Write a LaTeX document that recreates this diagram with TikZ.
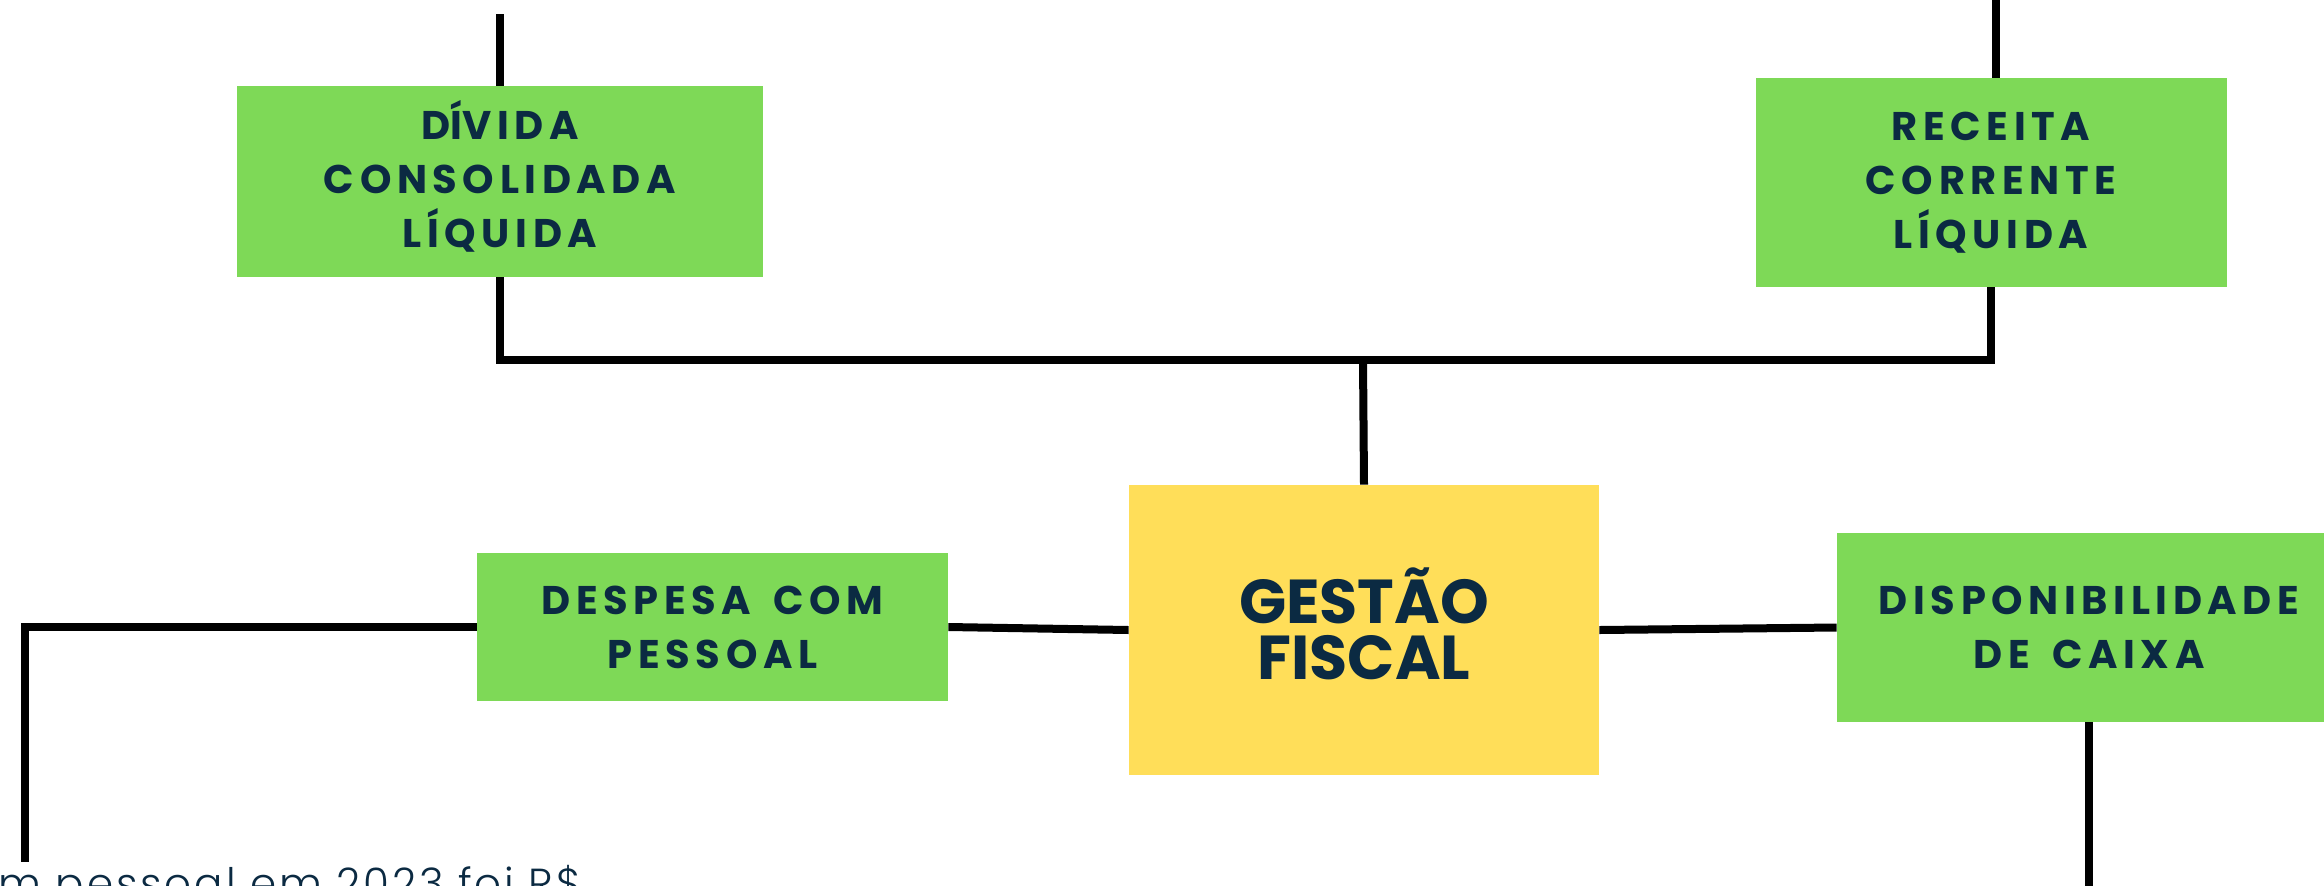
\documentclass[tikz,border=0pt]{standalone}
\usepackage{fontspec}
\usepackage{xcolor}
\setmainfont{Poppins}
\newfontfamily\boxfont{Poppins}[LetterSpace=14,WordSpace=1.6]
\newfontfamily\notefont{Poppins Light}[LetterSpace=7]

\definecolor{boxgreen}{HTML}{7ED957}
\definecolor{boxyellow}{HTML}{FFDE59}
\definecolor{inkblue}{HTML}{0B2A42}

\begin{document}
\begin{tikzpicture}[x=0.5pt,y=0.5pt,yscale=-1,xscale=1,
  greenbox/.style={fill=boxgreen, inner sep=0pt, align=center, text=inkblue,
    font=\boxfont\bfseries\fontsize{20}{27}\selectfont},
  yellowbox/.style={fill=boxyellow, inner sep=0pt, align=center, text=inkblue,
    font=\bfseries\fontsize{31}{28}\selectfont},
  link/.style={line width=4pt, black}]
%set diagram to the 2324 x 885 frame
\clip (0,0) rectangle (2324,885);

%Shape: Rectangle (top left)
\node (dcl) [greenbox, minimum width=263pt, minimum height=95.5pt] at (500,181.5) {D\smash{Í}VIDA\\CONSOLIDADA\\LÍQUIDA};
%Shape: Rectangle (top right)
\node (rcl) [greenbox, minimum width=235.5pt, minimum height=104.5pt] at (1991,182.5) {RECEITA\\CORRENTE\\LÍQUIDA};
%Shape: Rectangle (centre)
\node (gf) [yellowbox, minimum width=235pt, minimum height=145pt] at (1364,630) {GEST\smash{Ã}O\\FISCAL};
%Shape: Rectangle (left)
\node (dcp) [greenbox, minimum width=235.5pt, minimum height=74pt] at (712.5,627) {DESPESA COM\\PESSOAL};
%Shape: Rectangle (right)
\node (dcx) [greenbox, minimum width=252pt, minimum height=94.5pt] at (2089,627.5) {DISPONIBILIDADE\\DE CAIXA};

%Free ends
\coordinate (dcltop) at (500,14);
\coordinate (rcltop) at (1996,0);
\coordinate (bus) at (1363,360);
\coordinate (leftend) at (25,862);
\coordinate (dcxend) at (2089,890);

%Straight Lines
\draw [link] (dcltop) -- (dcl.north);
\draw [link] (rcltop) -- (rcltop |- rcl.north);
\draw [link] (dcl.south) -- (dcl.south |- bus) -- (rcl.south |- bus) -- (rcl.south);
\draw [link] (bus) -- (gf.north);
\draw [link] (dcp.east) -- (gf.west);
\draw [link] (gf.east) -- (dcx.west);
\draw [link] (dcp.west) -- (dcp.west -| leftend) -- (leftend);
\draw [link] (dcx.south) -- (dcxend);

% Text Node
\node (note) [anchor=base west, inner sep=0pt, text=inkblue, font=\notefont\fontsize{21}{24}\selectfont] at (-2,898) {m pessoal em 2023 foi R\$};

\end{tikzpicture}
\end{document}
